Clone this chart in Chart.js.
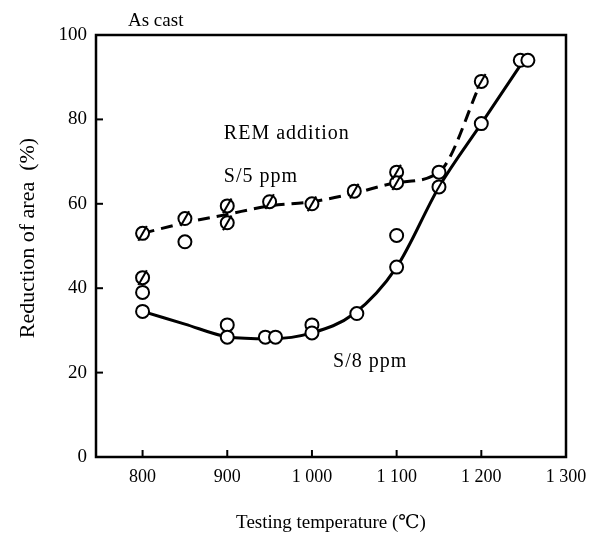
<!DOCTYPE html>
<html>
<head>
<meta charset="utf-8">
<script src="https://cdn.jsdelivr.net/npm/chart.js@4.4.1/dist/chart.umd.min.js"></script>
<style>
  html, body { margin: 0; padding: 0; background: #fff; }
</style>
</head>
<body>
<canvas id="chart" width="606" height="546"></canvas>
<script>
// values: testing temperature (°C) vs reduction of area (%)
const remCurveT  = [800, 850, 900, 950, 1000, 1050, 1100, 1150, 1200];
const remCurveRA = [53, 55.5, 57.5, 59.5, 60.5, 62.5, 65, 67.5, 89];
const s8CurveT   = [800, 850, 900, 950, 1000, 1050, 1100, 1150, 1200, 1250];
const s8CurveRA  = [34.5, 31.5, 28.5, 28, 29.4, 34, 45, 64, 79, 94];

const slashedT  = [800, 800, 850, 900, 900, 950, 1000, 1050, 1100, 1100, 1150, 1200];
const slashedRA = [53, 42.5, 56.5, 59.5, 55.5, 60.5, 60, 63, 67.5, 65, 64, 89];
const openT     = [800, 800, 850, 900, 900, 945, 957, 1000, 1000, 1053, 1100, 1100, 1150, 1200, 1246, 1255];
const openRA    = [39, 34.5, 51, 31.3, 28.4, 28.4, 28.4, 31.3, 29.4, 34, 52.5, 45, 67.5, 79, 94, 94];

const xTicks = [800, 900, 1000, 1100, 1200, 1300];
const yTicks = [0, 20, 40, 60, 80, 100];

const SERIF = "'Liberation Serif', 'DejaVu Serif', serif";
const pts = (xs, ys) => xs.map((v, i) => ({ x: v, y: ys[i] }));

const frame = {
  id: 'frame',
  beforeDatasetsDraw(chart) {
    const { ctx, chartArea: a, scales: { x, y } } = chart;
    ctx.save();
    ctx.strokeStyle = '#000';
    ctx.lineWidth = 2.5;
    ctx.strokeRect(a.left, a.top, a.right - a.left, a.bottom - a.top);
    ctx.lineWidth = 2;
    xTicks.forEach(t => {
      const px = x.getPixelForValue(t);
      ctx.beginPath(); ctx.moveTo(px, a.bottom); ctx.lineTo(px, a.bottom - 7); ctx.stroke();
    });
    yTicks.forEach(t => {
      const py = y.getPixelForValue(t);
      ctx.beginPath(); ctx.moveTo(a.left, py); ctx.lineTo(a.left + 7, py); ctx.stroke();
    });
    ctx.restore();
  },
  afterDraw(chart) {
    const { ctx, chartArea: a, scales: { x, y } } = chart;
    ctx.save();
    ctx.fillStyle = '#000';
    ctx.textBaseline = 'middle';
    ctx.font = '19px ' + SERIF;
    ctx.fillText('As cast', a.left + 32, a.top - 14);

    // y axis title, sits a little above the middle of the axis
    ctx.save();
    ctx.translate(28, (a.top + a.bottom) / 2 - 8);
    ctx.rotate(-Math.PI / 2);
    ctx.textAlign = 'center';
    ctx.font = '22px ' + SERIF;
    ctx.fillText('Reduction of area  (%)', 0, 0);
    ctx.restore();

    ctx.font = '20px ' + SERIF;
    ctx.letterSpacing = '1px';
    ctx.fillText('REM addition', x.getPixelForValue(896), y.getPixelForValue(76.5));
    ctx.fillText('S/5 ppm', x.getPixelForValue(896), y.getPixelForValue(66.5));
    ctx.fillText('S/8 ppm', x.getPixelForValue(1025), y.getPixelForValue(22.5));
    ctx.restore();
  }
};

const marker = { borderColor: '#000', backgroundColor: '#fff', borderWidth: 2 };

new Chart(document.getElementById('chart'), {
  type: 'scatter',
  data: {
    datasets: [
      // slash drawn on top of the REM circles
      { data: pts(slashedT, slashedRA), pointStyle: 'line', rotation: -60, pointRadius: 8.5,
        pointHoverRadius: 8.5, ...marker, order: 0 },
      { data: pts(slashedT, slashedRA), pointStyle: 'circle', pointRadius: 6.5, pointHoverRadius: 6.5,
        ...marker, order: 1 },
      { data: pts(openT, openRA), pointStyle: 'circle', pointRadius: 6.5, pointHoverRadius: 6.5,
        ...marker, order: 1 },
      { data: pts(remCurveT, remCurveRA), showLine: true, pointRadius: 0, borderColor: '#000',
        borderWidth: 3, borderDash: [12, 7], cubicInterpolationMode: 'monotone', order: 2 },
      { data: pts(s8CurveT, s8CurveRA), showLine: true, pointRadius: 0, borderColor: '#000',
        borderWidth: 3, cubicInterpolationMode: 'monotone', order: 2 }
    ]
  },
  options: {
    responsive: false,
    animation: false,
    devicePixelRatio: 1,
    layout: { padding: { top: 35, right: 40, left: 0, bottom: 0 } },
    plugins: { legend: { display: false }, tooltip: { enabled: false } },
    scales: {
      x: {
        type: 'linear', min: 745, max: 1300,
        afterBuildTicks: s => { s.ticks = xTicks.map(v => ({ value: v })); },
        afterFit: s => { s.height = 89; },
        grid: { display: false, drawTicks: false },
        border: { display: false },
        ticks: {
          color: '#000', padding: 9, maxRotation: 0,
          font: { family: SERIF, size: 18 },
          callback: v => v >= 1000 ? String(v).replace(/^(\d)/, '$1 ') : String(v)
        },
        title: { display: true, text: 'Testing temperature (\u2103)', color: '#000',
                 font: { family: SERIF, size: 19 }, padding: { top: 0, bottom: 12 } }
      },
      y: {
        min: 0, max: 100,
        afterBuildTicks: s => { s.ticks = yTicks.map(v => ({ value: v })); },
        afterFit: s => { s.width = 96; },
        grid: { display: false, drawTicks: false },
        border: { display: false },
        ticks: { color: '#000', padding: 9, font: { family: SERIF, size: 19 } },
        title: { display: false }
      }
    }
  },
  plugins: [frame]
});
</script>
</body>
</html>
